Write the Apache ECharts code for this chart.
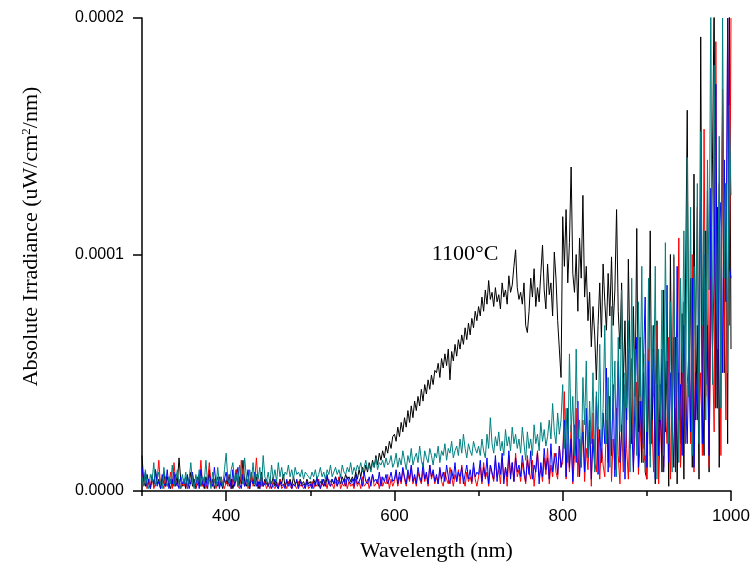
<!DOCTYPE html>
<html>
<head>
<meta charset="utf-8">
<script src="https://cdn.jsdelivr.net/npm/echarts@6/dist/echarts.min.js"></script>
<style>html,body{margin:0;padding:0;background:#fff}#c{width:753px;height:568px}</style>
</head>
<body>
<div id="c"></div>
<script>
// Wavelength grid (nm): 300..1000, step 2 nm
const wlStart = 300, wlStep = 2, wlCount = 351;
// Irradiance values in units of 1e-6 uW/cm^2/nm; one line = 50 nm
const black1100 = [
  15,4,2,7,3,1,6,2,9,3,5,1,4,8,2,6,3,1,5,2,7,3,14,5,2,
  4,1,6,3,8,2,5,1,3,7,2,4,1,6,3,9,2,5,1,4,2,6,3,1,5,
  3,7,2,5,1,4,9,2,6,3,13,4,2,5,1,7,3,2,6,1,4,8,2,5,3,
  2,5,3,6,2,4,1,5,3,7,2,4,3,5,2,6,3,4,2,5,3,4,2,5,3,
  4,2,5,3,6,2,4,3,5,2,6,3,4,5,3,6,4,5,3,6,4,7,5,6,4,
  6,4,8,5,9,6,10,7,11,8,12,9,13,10,15,11,16,13,17,14,19,16,21,18,23,
  24,21,27,23,29,25,31,27,34,29,36,31,38,34,40,36,43,38,45,41,47,43,49,45,51,
  50,54,48,56,52,58,53,60,47,59,55,62,57,64,60,66,62,69,64,71,66,73,69,76,72,
  78,74,82,76,85,79,89,81,84,78,86,80,83,77,88,82,85,79,91,84,87,95,102,86,81,
  84,79,88,70,67,76,90,82,94,78,86,80,92,104,85,77,96,83,88,74,101,90,72,60,48,
  116,95,119,88,105,137,92,84,100,76,107,90,125,82,95,72,84,61,78,66,47,70,88,65,96,
  80,68,92,74,99,70,85,119,76,60,88,45,72,30,98,55,20,78,40,111,25,65,12,50,8,
  5,40,110,20,60,3,72,15,45,8,85,25,55,2,100,30,10,65,3,50,20,75,5,90,161,
  40,90,10,134,30,70,5,192,45,15,110,60,8,90,140,210,35,120,10,80,164,50,130,20,215,
  60
];
const redSeries = [
  9,3,6,1,4,2,7,1,3,5,13,2,4,1,6,2,3,8,1,12,4,2,5,1,3,
  2,6,1,4,3,7,2,1,5,3,13,2,6,1,4,12,3,2,5,1,4,2,6,3,1,
  4,2,7,1,5,3,9,2,1,13,4,2,6,1,3,8,2,5,14,3,1,6,2,4,1,
  3,1,4,2,1,3,2,5,1,2,3,1,4,2,1,3,2,1,4,2,3,1,2,4,1,
  2,4,1,3,2,5,1,3,2,4,1,5,2,3,1,4,2,6,1,3,2,5,1,4,2,
  3,1,5,2,4,1,6,2,3,5,1,4,7,2,3,5,1,6,2,4,3,7,1,5,2,
  4,8,2,6,3,9,5,2,7,4,10,3,6,2,8,5,3,9,4,7,2,11,5,8,3,
  6,3,9,4,2,8,5,3,10,6,2,7,4,9,3,11,5,2,8,4,6,3,10,5,2,
  6,10,3,12,5,8,2,11,7,4,13,6,9,3,14,5,10,2,15,7,12,4,16,6,9,
  4,12,7,3,15,8,5,13,2,10,17,6,9,4,14,7,18,3,11,6,16,8,5,19,10,
  12,42,5,20,8,28,3,15,35,6,22,10,30,4,18,9,25,2,33,12,8,27,5,20,11,
  6,30,12,40,4,22,9,35,15,3,28,8,45,18,5,33,56,10,25,46,7,20,38,12,15,
  5,60,15,30,8,45,70,3,25,50,10,35,20,65,5,40,99,15,55,107,10,30,80,20,45,
  60,20,100,8,75,120,30,50,15,153,40,127,10,90,60,25,190,45,130,15,170,80,30,200,70,
  200
];
const blueSeries = [
  10,4,8,2,5,1,6,3,9,2,4,1,7,3,2,9,1,5,3,8,2,4,1,6,3,
  5,2,7,1,4,8,2,3,6,1,9,3,2,5,1,7,4,2,10,3,6,1,4,2,5,
  8,3,6,1,9,2,5,10,3,1,7,2,4,9,1,5,3,8,2,4,1,6,2,3,5,
  2,4,1,3,5,2,1,4,2,3,1,5,2,4,1,3,2,5,1,4,2,3,1,4,2,
  3,1,4,2,6,3,1,5,2,4,7,3,2,5,3,6,2,4,7,3,5,2,6,4,3,
  5,2,7,3,4,6,2,8,4,3,6,2,7,4,5,3,8,2,6,4,7,3,5,8,4,
  5,9,3,8,4,10,6,3,9,5,11,4,7,3,10,6,4,12,5,8,3,11,6,9,4,
  7,3,10,5,8,4,11,6,3,9,5,12,4,8,6,10,3,7,11,5,9,4,12,6,8,
  7,13,4,10,6,14,3,11,8,5,15,4,12,7,16,3,10,6,17,5,12,4,14,8,11,
  6,15,9,4,13,7,17,5,11,8,16,3,12,6,18,9,14,5,20,8,13,16,7,19,10,
  15,30,6,35,10,22,4,28,12,38,6,18,25,8,35,14,30,5,22,10,40,7,26,12,33,
  20,52,8,40,15,45,6,30,55,12,25,48,5,35,60,18,28,8,42,65,10,38,20,55,82,
  10,55,20,35,70,5,45,15,30,60,8,40,87,12,50,25,65,8,95,30,45,15,70,40,20,
  60,25,90,10,50,30,80,126,20,100,45,70,15,128,60,90,172,35,110,122,50,140,80,200,95,
  90
];
const tealSeries = [
  6,2,9,3,1,7,4,12,2,5,8,3,1,10,4,2,6,3,11,2,5,9,3,1,7,
  3,8,2,5,12,4,1,7,3,9,2,6,4,13,3,5,1,8,4,2,10,3,6,2,9,
  16,5,3,9,12,4,7,2,11,5,3,14,6,2,9,4,12,3,7,5,10,2,15,6,4,
  8,3,11,5,9,4,12,6,10,5,8,7,11,6,9,5,10,7,8,6,9,5,8,7,6,
  5,8,6,9,5,7,10,6,8,5,9,7,11,6,8,10,7,9,6,11,8,7,10,8,12,
  7,10,8,11,9,12,8,10,13,9,11,8,12,10,14,9,12,11,13,10,14,11,12,15,10,
  12,16,10,14,11,17,13,9,15,12,18,11,14,16,12,19,13,10,17,14,12,18,15,11,16,
  14,19,12,17,15,20,13,18,16,21,14,17,19,15,22,16,24,18,14,20,17,15,21,18,16,
  19,15,22,17,14,24,18,31,20,16,23,19,25,17,21,15,26,19,23,17,27,20,24,18,22,
  16,27,20,13,25,18,22,15,28,20,24,17,29,21,26,19,23,30,22,37,25,20,33,24,30,
  45,18,35,12,58,25,40,15,60,22,30,10,48,28,55,14,38,20,50,8,42,26,62,18,35,
  70,20,48,10,78,30,55,6,65,25,85,12,50,35,72,8,90,22,60,15,80,40,95,18,58,
  25,90,10,70,40,95,5,60,30,85,15,105,45,20,80,8,100,35,65,12,90,50,110,25,141,
  40,120,15,95,60,130,20,152,70,110,30,140,85,210,45,180,100,60,150,35,200,90,130,50,163,
  125
];
const xMajorTicks = [400, 600, 800, 1000];
const xMinorTicks = [300, 500, 700, 900];
const annotation = { text: '1100°C', wl: 684, value: 100 };

const wavelengths = Array.from({length: wlCount}, (_, i) => wlStart + i * wlStep);
const pairs = arr => arr.map((v, i) => [wavelengths[i], v]);

const sansFont = '"Liberation Sans", Arial, sans-serif';
const serifFont = '"Liberation Serif", "Times New Roman", serif';

const chart = echarts.init(document.getElementById('c'), null, {renderer: 'canvas'});
const lineSeries = (name, data, color, z) => ({
  name, type: 'line', data: pairs(data), showSymbol: false, symbol: 'none',
  lineStyle: {color, width: 1}, itemStyle: {color}, z, animation: false, clip: true
});
const blackS = lineSeries('1100°C', black1100, '#000000', 2);
blackS.markPoint = {
  symbol: 'circle', symbolSize: 0, animation: false,
  data: [{coord: [annotation.wl, annotation.value]}],
  label: {show: true, position: 'inside', formatter: annotation.text, color: '#000',
          fontFamily: serifFont, fontSize: 22}
};
chart.setOption({
  animation: false,
  backgroundColor: '#fff',
  grid: {left: 142, right: 22, top: 18, bottom: 77, containLabel: false},
  xAxis: [{
    type: 'value', min: 300, max: 1000, position: 'bottom',
    name: 'Wavelength (nm)', nameLocation: 'middle', nameGap: 49,
    nameTextStyle: {fontFamily: serifFont, fontSize: 22, color: '#000'},
    axisLine: {show: true, lineStyle: {color: '#000', width: 1.5}},
    axisTick: {show: true, inside: false, length: 10, customValues: xMajorTicks, lineStyle: {color: '#000', width: 1.5}},
    axisLabel: {show: true, customValues: xMajorTicks, margin: 17, color: '#000', fontFamily: sansFont, fontSize: 17,
      formatter: v => String(v)},
    splitLine: {show: false}
  }, {
    type: 'value', min: 300, max: 1000, position: 'bottom', offset: 0,
    axisLine: {show: false},
    axisTick: {show: true, inside: false, length: 5, customValues: xMinorTicks, lineStyle: {color: '#000', width: 1.5}},
    axisLabel: {show: false},
    splitLine: {show: false}
  }],
  yAxis: {
    type: 'value', min: 0, max: 200, interval: 100,
    name: 'Absolute Irradiance (uW/cm{sup|2}/nm)', nameLocation: 'middle', nameGap: 100,
    nameTextStyle: {fontFamily: serifFont, fontSize: 22, color: '#000', padding: [0, 0, 0, 36],
      rich: {sup: {fontFamily: serifFont, fontSize: 13, color: '#000', verticalAlign: 'top'}}},
    axisLine: {show: true, lineStyle: {color: '#000', width: 1.5}},
    axisTick: {show: true, inside: false, length: 9, lineStyle: {color: '#000', width: 1.5}},
    axisLabel: {margin: 18, color: '#000', fontFamily: sansFont, fontSize: 16,
      formatter: v => (v * 1e-6).toFixed(4)},
    splitLine: {show: false}
  },
  series: [
    blackS,
    lineSeries('red', redSeries, '#ff0000', 3),
    lineSeries('blue', blueSeries, '#0000ff', 4),
    lineSeries('teal', tealSeries, '#008080', 5)
  ]
});
</script>
</body>
</html>
